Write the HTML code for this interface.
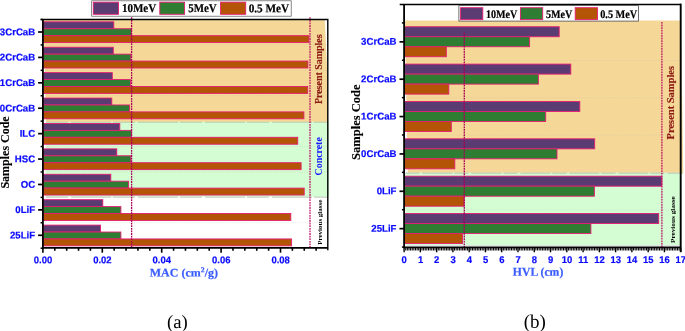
<!DOCTYPE html>
<html lang="en"><head><meta charset="utf-8"><title>MAC and HVL charts</title>
<style>
html,body{margin:0;padding:0;background:#fff;}
body{width:685px;height:331px;overflow:hidden;}
svg{display:block;}
</style></head><body>
<svg width="685" height="331" viewBox="0 0 685 331">
<rect width="685" height="331" fill="#fff"/>
<polygon points="43.6,19.5 324.8,19.5 327.8,85 327.8,121.9 46,121.9" fill="#f5d898"/>
<rect x="45.9" y="121.9" width="283.1" height="75.0" fill="#d4fdd4"/>
<line x1="45" x2="327.8" y1="44.91" y2="44.91" stroke="#b9b9a8" stroke-width="0.6" stroke-dasharray="1.2 1.2" opacity="0.5"/>
<line x1="45" x2="327.8" y1="70.32" y2="70.32" stroke="#b9b9a8" stroke-width="0.6" stroke-dasharray="1.2 1.2" opacity="0.5"/>
<line x1="45" x2="327.8" y1="95.73" y2="95.73" stroke="#b9b9a8" stroke-width="0.6" stroke-dasharray="1.2 1.2" opacity="0.5"/>
<line x1="45" x2="327.8" y1="146.55" y2="146.55" stroke="#b9b9a8" stroke-width="0.6" stroke-dasharray="1.2 1.2" opacity="0.5"/>
<line x1="45" x2="327.8" y1="171.96" y2="171.96" stroke="#b9b9a8" stroke-width="0.6" stroke-dasharray="1.2 1.2" opacity="0.5"/>
<line x1="45" x2="327.8" y1="222.78" y2="222.78" stroke="#b9b9a8" stroke-width="0.6" stroke-dasharray="1.2 1.2" opacity="0.5"/>
<line x1="46" x2="327.8" y1="122.3" y2="122.3" stroke="#8d8d84" stroke-width="0.8" stroke-dasharray="22 3 40 2" opacity="0.5"/>
<line x1="46" x2="327.8" y1="197.2" y2="197.2" stroke="#7a7a74" stroke-width="0.8" stroke-dasharray="22 3 40 2" opacity="0.55"/>
<rect x="43.40" y="21.82" width="70.40" height="6.92" fill="#5a3c73" stroke="#e61c72" stroke-width="0.9"/>
<rect x="43.40" y="28.74" width="88.00" height="6.92" fill="#2f7d32" stroke="#e61c72" stroke-width="0.9"/>
<rect x="43.40" y="35.66" width="265.50" height="6.92" fill="#b35407" stroke="#e61c72" stroke-width="0.9"/>
<rect x="43.40" y="47.23" width="69.90" height="6.92" fill="#5a3c73" stroke="#e61c72" stroke-width="0.9"/>
<rect x="43.40" y="54.15" width="87.50" height="6.92" fill="#2f7d32" stroke="#e61c72" stroke-width="0.9"/>
<rect x="43.40" y="61.07" width="264.50" height="6.92" fill="#b35407" stroke="#e61c72" stroke-width="0.9"/>
<rect x="43.40" y="72.64" width="68.90" height="6.92" fill="#5a3c73" stroke="#e61c72" stroke-width="0.9"/>
<rect x="43.40" y="79.56" width="87.00" height="6.92" fill="#2f7d32" stroke="#e61c72" stroke-width="0.9"/>
<rect x="43.40" y="86.48" width="264.30" height="6.92" fill="#b35407" stroke="#e61c72" stroke-width="0.9"/>
<rect x="43.40" y="98.05" width="68.40" height="6.92" fill="#5a3c73" stroke="#e61c72" stroke-width="0.9"/>
<rect x="43.40" y="104.97" width="86.20" height="6.92" fill="#2f7d32" stroke="#e61c72" stroke-width="0.9"/>
<rect x="43.40" y="111.89" width="260.50" height="6.92" fill="#b35407" stroke="#e61c72" stroke-width="0.9"/>
<rect x="43.40" y="123.46" width="76.40" height="6.92" fill="#5a3c73" stroke="#e61c72" stroke-width="0.9"/>
<rect x="43.40" y="130.38" width="88.00" height="6.92" fill="#2f7d32" stroke="#e61c72" stroke-width="0.9"/>
<rect x="43.40" y="137.30" width="254.30" height="6.92" fill="#b35407" stroke="#e61c72" stroke-width="0.9"/>
<rect x="43.40" y="148.87" width="73.40" height="6.92" fill="#5a3c73" stroke="#e61c72" stroke-width="0.9"/>
<rect x="43.40" y="155.79" width="87.50" height="6.92" fill="#2f7d32" stroke="#e61c72" stroke-width="0.9"/>
<rect x="43.40" y="162.71" width="257.70" height="6.92" fill="#b35407" stroke="#e61c72" stroke-width="0.9"/>
<rect x="43.40" y="174.28" width="67.40" height="6.92" fill="#5a3c73" stroke="#e61c72" stroke-width="0.9"/>
<rect x="43.40" y="181.20" width="85.20" height="6.92" fill="#2f7d32" stroke="#e61c72" stroke-width="0.9"/>
<rect x="43.40" y="188.12" width="260.80" height="6.92" fill="#b35407" stroke="#e61c72" stroke-width="0.9"/>
<rect x="43.40" y="199.69" width="59.40" height="6.92" fill="#5a3c73" stroke="#e61c72" stroke-width="0.9"/>
<rect x="43.40" y="206.61" width="77.50" height="6.92" fill="#2f7d32" stroke="#e61c72" stroke-width="0.9"/>
<rect x="43.40" y="213.53" width="247.40" height="6.92" fill="#b35407" stroke="#e61c72" stroke-width="0.9"/>
<rect x="43.40" y="225.10" width="57.10" height="6.92" fill="#5a3c73" stroke="#e61c72" stroke-width="0.9"/>
<rect x="43.40" y="232.02" width="77.50" height="6.92" fill="#2f7d32" stroke="#e61c72" stroke-width="0.9"/>
<rect x="43.40" y="238.94" width="248.20" height="6.92" fill="#b35407" stroke="#e61c72" stroke-width="0.9"/>
<line x1="131.6" x2="131.6" y1="17.3" y2="247.8" stroke="#aa0058" stroke-width="1.3" stroke-dasharray="1.8 0.8"/>
<line x1="310.0" x2="310.0" y1="17.3" y2="247.8" stroke="#bb1063" stroke-width="1.25" stroke-dasharray="1.8 0.8"/>
<path d="M40.699999999999996 19.5 H327.8 V250.20000000000002" fill="none" stroke="#000" stroke-width="1.4"/>
<path d="M42.9 19.5 V247.8 H327.8" fill="none" stroke="#000" stroke-width="1.8"/>
<line x1="38.1" x2="42.9" y1="32.00" y2="32.00" stroke="#000" stroke-width="1.7"/>
<line x1="38.1" x2="42.9" y1="57.41" y2="57.41" stroke="#000" stroke-width="1.7"/>
<line x1="38.1" x2="42.9" y1="82.82" y2="82.82" stroke="#000" stroke-width="1.7"/>
<line x1="38.1" x2="42.9" y1="108.23" y2="108.23" stroke="#000" stroke-width="1.7"/>
<line x1="38.1" x2="42.9" y1="133.64" y2="133.64" stroke="#000" stroke-width="1.7"/>
<line x1="38.1" x2="42.9" y1="159.05" y2="159.05" stroke="#000" stroke-width="1.7"/>
<line x1="38.1" x2="42.9" y1="184.46" y2="184.46" stroke="#000" stroke-width="1.7"/>
<line x1="38.1" x2="42.9" y1="209.87" y2="209.87" stroke="#000" stroke-width="1.7"/>
<line x1="38.1" x2="42.9" y1="235.28" y2="235.28" stroke="#000" stroke-width="1.7"/>
<line x1="40.6" x2="42.9" y1="19.50" y2="19.50" stroke="#000" stroke-width="1.5"/>
<line x1="40.6" x2="42.9" y1="44.91" y2="44.91" stroke="#000" stroke-width="1.5"/>
<line x1="40.6" x2="42.9" y1="70.32" y2="70.32" stroke="#000" stroke-width="1.5"/>
<line x1="40.6" x2="42.9" y1="95.73" y2="95.73" stroke="#000" stroke-width="1.5"/>
<line x1="40.6" x2="42.9" y1="121.14" y2="121.14" stroke="#000" stroke-width="1.5"/>
<line x1="40.6" x2="42.9" y1="146.55" y2="146.55" stroke="#000" stroke-width="1.5"/>
<line x1="40.6" x2="42.9" y1="171.96" y2="171.96" stroke="#000" stroke-width="1.5"/>
<line x1="40.6" x2="42.9" y1="197.37" y2="197.37" stroke="#000" stroke-width="1.5"/>
<line x1="40.6" x2="42.9" y1="222.78" y2="222.78" stroke="#000" stroke-width="1.5"/>
<line x1="40.6" x2="42.9" y1="248.19" y2="248.19" stroke="#000" stroke-width="1.5"/>
<line x1="42.90" x2="42.90" y1="247.8" y2="252.70000000000002" stroke="#000" stroke-width="1.6"/>
<line x1="54.78" x2="54.78" y1="247.8" y2="250.8" stroke="#000" stroke-width="1.6"/>
<line x1="66.66" x2="66.66" y1="247.8" y2="250.8" stroke="#000" stroke-width="1.6"/>
<line x1="78.54" x2="78.54" y1="247.8" y2="250.8" stroke="#000" stroke-width="1.6"/>
<line x1="90.42" x2="90.42" y1="247.8" y2="250.8" stroke="#000" stroke-width="1.6"/>
<line x1="102.30" x2="102.30" y1="247.8" y2="252.70000000000002" stroke="#000" stroke-width="1.6"/>
<line x1="114.18" x2="114.18" y1="247.8" y2="250.8" stroke="#000" stroke-width="1.6"/>
<line x1="126.06" x2="126.06" y1="247.8" y2="250.8" stroke="#000" stroke-width="1.6"/>
<line x1="137.94" x2="137.94" y1="247.8" y2="250.8" stroke="#000" stroke-width="1.6"/>
<line x1="149.82" x2="149.82" y1="247.8" y2="250.8" stroke="#000" stroke-width="1.6"/>
<line x1="161.70" x2="161.70" y1="247.8" y2="252.70000000000002" stroke="#000" stroke-width="1.6"/>
<line x1="173.58" x2="173.58" y1="247.8" y2="250.8" stroke="#000" stroke-width="1.6"/>
<line x1="185.46" x2="185.46" y1="247.8" y2="250.8" stroke="#000" stroke-width="1.6"/>
<line x1="197.34" x2="197.34" y1="247.8" y2="250.8" stroke="#000" stroke-width="1.6"/>
<line x1="209.22" x2="209.22" y1="247.8" y2="250.8" stroke="#000" stroke-width="1.6"/>
<line x1="221.10" x2="221.10" y1="247.8" y2="252.70000000000002" stroke="#000" stroke-width="1.6"/>
<line x1="232.98" x2="232.98" y1="247.8" y2="250.8" stroke="#000" stroke-width="1.6"/>
<line x1="244.86" x2="244.86" y1="247.8" y2="250.8" stroke="#000" stroke-width="1.6"/>
<line x1="256.74" x2="256.74" y1="247.8" y2="250.8" stroke="#000" stroke-width="1.6"/>
<line x1="268.62" x2="268.62" y1="247.8" y2="250.8" stroke="#000" stroke-width="1.6"/>
<line x1="280.50" x2="280.50" y1="247.8" y2="252.70000000000002" stroke="#000" stroke-width="1.6"/>
<line x1="292.38" x2="292.38" y1="247.8" y2="250.8" stroke="#000" stroke-width="1.6"/>
<line x1="304.26" x2="304.26" y1="247.8" y2="250.8" stroke="#000" stroke-width="1.6"/>
<line x1="316.14" x2="316.14" y1="247.8" y2="250.8" stroke="#000" stroke-width="1.6"/>
<text transform="translate(35.2 35.2) rotate(0.03) scale(0.985 1)" font-family="'Liberation Sans', Arial, sans-serif" font-size="9.8" font-weight="bold" fill="#0a0aff" text-anchor="end" stroke="#0a0aff" stroke-width="0.2">3CrCaB</text>
<text transform="translate(35.2 60.61) rotate(0.03) scale(0.985 1)" font-family="'Liberation Sans', Arial, sans-serif" font-size="9.8" font-weight="bold" fill="#0a0aff" text-anchor="end" stroke="#0a0aff" stroke-width="0.2">2CrCaB</text>
<text transform="translate(35.2 86.02) rotate(0.03) scale(0.985 1)" font-family="'Liberation Sans', Arial, sans-serif" font-size="9.8" font-weight="bold" fill="#0a0aff" text-anchor="end" stroke="#0a0aff" stroke-width="0.2">1CrCaB</text>
<text transform="translate(35.2 111.43) rotate(0.03) scale(0.985 1)" font-family="'Liberation Sans', Arial, sans-serif" font-size="9.8" font-weight="bold" fill="#0a0aff" text-anchor="end" stroke="#0a0aff" stroke-width="0.2">0CrCaB</text>
<text transform="translate(35.2 136.84) rotate(0.03) scale(0.985 1)" font-family="'Liberation Sans', Arial, sans-serif" font-size="9.8" font-weight="bold" fill="#0a0aff" text-anchor="end" stroke="#0a0aff" stroke-width="0.2">ILC</text>
<text transform="translate(35.2 162.25) rotate(0.03) scale(0.985 1)" font-family="'Liberation Sans', Arial, sans-serif" font-size="9.8" font-weight="bold" fill="#0a0aff" text-anchor="end" stroke="#0a0aff" stroke-width="0.2">HSC</text>
<text transform="translate(35.2 187.66) rotate(0.03) scale(0.985 1)" font-family="'Liberation Sans', Arial, sans-serif" font-size="9.8" font-weight="bold" fill="#0a0aff" text-anchor="end" stroke="#0a0aff" stroke-width="0.2">OC</text>
<text transform="translate(35.2 213.07) rotate(0.03) scale(0.985 1)" font-family="'Liberation Sans', Arial, sans-serif" font-size="9.8" font-weight="bold" fill="#0a0aff" text-anchor="end" stroke="#0a0aff" stroke-width="0.2">0LiF</text>
<text transform="translate(35.2 238.48) rotate(0.03) scale(0.985 1)" font-family="'Liberation Sans', Arial, sans-serif" font-size="9.8" font-weight="bold" fill="#0a0aff" text-anchor="end" stroke="#0a0aff" stroke-width="0.2">25LiF</text>
<text transform="translate(43.0 263.2) rotate(0.03) scale(0.965 1)" font-family="'Liberation Sans', Arial, sans-serif" font-size="9.8" font-weight="bold" fill="#0a0aff" text-anchor="middle" stroke="#0a0aff" stroke-width="0.2">0.00</text>
<text transform="translate(102.4 263.2) rotate(0.03) scale(0.965 1)" font-family="'Liberation Sans', Arial, sans-serif" font-size="9.8" font-weight="bold" fill="#0a0aff" text-anchor="middle" stroke="#0a0aff" stroke-width="0.2">0.02</text>
<text transform="translate(161.8 263.2) rotate(0.03) scale(0.965 1)" font-family="'Liberation Sans', Arial, sans-serif" font-size="9.8" font-weight="bold" fill="#0a0aff" text-anchor="middle" stroke="#0a0aff" stroke-width="0.2">0.04</text>
<text transform="translate(221.2 263.2) rotate(0.03) scale(0.965 1)" font-family="'Liberation Sans', Arial, sans-serif" font-size="9.8" font-weight="bold" fill="#0a0aff" text-anchor="middle" stroke="#0a0aff" stroke-width="0.2">0.06</text>
<text transform="translate(280.6 263.2) rotate(0.03) scale(0.965 1)" font-family="'Liberation Sans', Arial, sans-serif" font-size="9.8" font-weight="bold" fill="#0a0aff" text-anchor="middle" stroke="#0a0aff" stroke-width="0.2">0.08</text>
<text transform="translate(149.8 276.5) rotate(0.03)" font-family="'Liberation Serif', 'Times New Roman', serif" font-size="11.6" font-weight="bold" fill="#3a5cff" text-anchor="start" textLength="68.2" lengthAdjust="spacingAndGlyphs" stroke="#3a5cff" stroke-width="0.2">MAC (cm<tspan font-size="7.5" dy="-4.2">2</tspan><tspan dy="4.2">/g)</tspan></text>
<text transform="translate(9.3 188.6) rotate(-90)" font-family="'Liberation Serif', 'Times New Roman', serif" font-size="12" font-weight="bold" fill="#000" text-anchor="start" textLength="72.3" lengthAdjust="spacingAndGlyphs" stroke="#000" stroke-width="0.1">Samples Code</text>
<text transform="translate(321.6 104.1) rotate(-90)" font-family="'Liberation Serif', 'Times New Roman', serif" font-size="9.6" font-weight="bold" fill="#8b1a12" text-anchor="start" textLength="69.7" lengthAdjust="spacingAndGlyphs" stroke="#8b1a12" stroke-width="0.15">Present Samples</text>
<text transform="translate(321.8 175.4) rotate(-90)" font-family="'Liberation Serif', 'Times New Roman', serif" font-size="9.8" font-weight="bold" fill="#1717ff" text-anchor="start" textLength="38.2" lengthAdjust="spacingAndGlyphs">Concrete</text>
<text transform="translate(321.5 244.7) rotate(-90)" font-family="'Liberation Serif', 'Times New Roman', serif" font-size="6.7" font-weight="bold" fill="#000" text-anchor="start" textLength="45.0" lengthAdjust="spacingAndGlyphs">Previous glasse</text>
<text transform="translate(177.3 328.0) rotate(0.03)" font-family="'Liberation Serif', 'Times New Roman', serif" font-size="18.7" font-weight="normal" fill="#000" text-anchor="middle">(a)</text>
<rect x="91.7" y="0.8" width="199.5" height="15.4" fill="#fff" stroke="#555" stroke-width="0.7"/>
<rect x="93.3" y="2.2" width="25.20" height="12.10" fill="#5a3c73" stroke="#e61c72" stroke-width="0.9"/>
<text transform="translate(121.9 12.2) rotate(0.03)" font-family="'Liberation Serif', 'Times New Roman', serif" font-size="12" font-weight="bold" fill="#000" text-anchor="start" textLength="34.3" lengthAdjust="spacingAndGlyphs" stroke="#000" stroke-width="0.2">10MeV</text>
<rect x="159.8" y="2.2" width="24.80" height="12.10" fill="#2f7d32" stroke="#e61c72" stroke-width="0.9"/>
<text transform="translate(188.2 12.2) rotate(0.03)" font-family="'Liberation Serif', 'Times New Roman', serif" font-size="12" font-weight="bold" fill="#000" text-anchor="start" textLength="28.5" lengthAdjust="spacingAndGlyphs" stroke="#000" stroke-width="0.2">5MeV</text>
<rect x="220.6" y="2.2" width="25.10" height="12.10" fill="#b35407" stroke="#e61c72" stroke-width="0.9"/>
<text transform="translate(248.7 12.2) rotate(0.03)" font-family="'Liberation Serif', 'Times New Roman', serif" font-size="12" font-weight="bold" fill="#000" text-anchor="start" textLength="40.5" lengthAdjust="spacingAndGlyphs" stroke="#000" stroke-width="0.2">0.5 MeV</text>
<polygon points="404.9,20.6 680.9,20.6 683.3,172.8 407.8,172.8" fill="#f5d898"/>
<rect x="405.4" y="172.8" width="275.30000000000007" height="72.29999999999998" fill="#d4fdd4"/>
<line x1="406.6" x2="680.7" y1="245.3" y2="245.3" stroke="#889" stroke-width="0.5" opacity="0.6"/>
<line x1="406" x2="680.7" y1="60.46" y2="60.46" stroke="#b9b9a8" stroke-width="0.6" stroke-dasharray="1.2 1.2" opacity="0.5"/>
<line x1="406" x2="680.7" y1="97.82" y2="97.82" stroke="#b9b9a8" stroke-width="0.6" stroke-dasharray="1.2 1.2" opacity="0.5"/>
<line x1="406" x2="680.7" y1="135.18" y2="135.18" stroke="#b9b9a8" stroke-width="0.6" stroke-dasharray="1.2 1.2" opacity="0.5"/>
<line x1="406" x2="680.7" y1="172.54" y2="172.54" stroke="#b9b9a8" stroke-width="0.6" stroke-dasharray="1.2 1.2" opacity="0.5"/>
<line x1="406" x2="680.7" y1="209.90" y2="209.90" stroke="#b9b9a8" stroke-width="0.6" stroke-dasharray="1.2 1.2" opacity="0.5"/>
<line x1="405.4" x2="683" y1="173.2" y2="173.2" stroke="#9a9a90" stroke-width="0.9" stroke-dasharray="14 3 30 2" opacity="0.55"/>
<rect x="404.60" y="26.75" width="154.60" height="10.00" fill="#5a3c73" stroke="#e61c72" stroke-width="0.9"/>
<rect x="404.60" y="36.75" width="125.00" height="10.00" fill="#2f7d32" stroke="#e61c72" stroke-width="0.9"/>
<rect x="404.60" y="46.75" width="41.70" height="10.00" fill="#b35407" stroke="#e61c72" stroke-width="0.9"/>
<rect x="404.60" y="64.11" width="166.20" height="10.00" fill="#5a3c73" stroke="#e61c72" stroke-width="0.9"/>
<rect x="404.60" y="74.11" width="133.80" height="10.00" fill="#2f7d32" stroke="#e61c72" stroke-width="0.9"/>
<rect x="404.60" y="84.11" width="44.20" height="10.00" fill="#b35407" stroke="#e61c72" stroke-width="0.9"/>
<rect x="404.60" y="101.47" width="175.20" height="10.00" fill="#5a3c73" stroke="#e61c72" stroke-width="0.9"/>
<rect x="404.60" y="111.47" width="141.10" height="10.00" fill="#2f7d32" stroke="#e61c72" stroke-width="0.9"/>
<rect x="404.60" y="121.47" width="46.70" height="10.00" fill="#b35407" stroke="#e61c72" stroke-width="0.9"/>
<rect x="404.60" y="138.83" width="190.10" height="10.00" fill="#5a3c73" stroke="#e61c72" stroke-width="0.9"/>
<rect x="404.60" y="148.83" width="152.40" height="10.00" fill="#2f7d32" stroke="#e61c72" stroke-width="0.9"/>
<rect x="404.60" y="158.83" width="50.20" height="10.00" fill="#b35407" stroke="#e61c72" stroke-width="0.9"/>
<rect x="404.60" y="176.19" width="257.20" height="10.00" fill="#5a3c73" stroke="#e61c72" stroke-width="0.9"/>
<rect x="404.60" y="186.19" width="189.80" height="10.00" fill="#2f7d32" stroke="#e61c72" stroke-width="0.9"/>
<rect x="404.60" y="196.19" width="59.50" height="10.00" fill="#b35407" stroke="#e61c72" stroke-width="0.9"/>
<rect x="404.60" y="213.55" width="254.10" height="10.00" fill="#5a3c73" stroke="#e61c72" stroke-width="0.9"/>
<rect x="404.60" y="223.55" width="186.30" height="10.00" fill="#2f7d32" stroke="#e61c72" stroke-width="0.9"/>
<rect x="404.60" y="233.55" width="58.00" height="10.00" fill="#b35407" stroke="#e61c72" stroke-width="0.9"/>
<line x1="464.3" x2="464.3" y1="32.8" y2="249.9" stroke="#aa0058" stroke-width="1.3" stroke-dasharray="1.8 0.8"/>
<line x1="661.9" x2="661.9" y1="22" y2="247.4" stroke="#bb1063" stroke-width="1.25" stroke-dasharray="1.8 0.8"/>
<path d="M399.70000000000005 4.45 H680.7" fill="none" stroke="#000" stroke-width="1.6"/>
<path d="M680.7 3.6500000000000004 V252.0" fill="none" stroke="#000" stroke-width="1.9"/>
<path d="M404.1 4.45 V247.4 H680.7" fill="none" stroke="#000" stroke-width="1.8"/>
<line x1="399.5" x2="404.1" y1="41.85" y2="41.85" stroke="#000" stroke-width="1.7"/>
<line x1="399.5" x2="404.1" y1="79.21" y2="79.21" stroke="#000" stroke-width="1.7"/>
<line x1="399.5" x2="404.1" y1="116.57" y2="116.57" stroke="#000" stroke-width="1.7"/>
<line x1="399.5" x2="404.1" y1="153.93" y2="153.93" stroke="#000" stroke-width="1.7"/>
<line x1="399.5" x2="404.1" y1="191.29" y2="191.29" stroke="#000" stroke-width="1.7"/>
<line x1="399.5" x2="404.1" y1="228.65" y2="228.65" stroke="#000" stroke-width="1.7"/>
<line x1="401.9" x2="404.1" y1="22.90" y2="22.90" stroke="#000" stroke-width="1.5"/>
<line x1="401.9" x2="404.1" y1="60.26" y2="60.26" stroke="#000" stroke-width="1.5"/>
<line x1="401.9" x2="404.1" y1="97.62" y2="97.62" stroke="#000" stroke-width="1.5"/>
<line x1="401.9" x2="404.1" y1="134.98" y2="134.98" stroke="#000" stroke-width="1.5"/>
<line x1="401.9" x2="404.1" y1="172.34" y2="172.34" stroke="#000" stroke-width="1.5"/>
<line x1="401.9" x2="404.1" y1="209.70" y2="209.70" stroke="#000" stroke-width="1.5"/>
<line x1="401.9" x2="404.1" y1="247.06" y2="247.06" stroke="#000" stroke-width="1.5"/>
<line x1="404.10" x2="404.10" y1="247.4" y2="252.3" stroke="#000" stroke-width="1.4"/>
<line x1="405.73" x2="405.73" y1="247.4" y2="250.4" stroke="#000" stroke-width="1.05"/>
<line x1="407.35" x2="407.35" y1="247.4" y2="250.4" stroke="#000" stroke-width="1.05"/>
<line x1="408.98" x2="408.98" y1="247.4" y2="250.4" stroke="#000" stroke-width="1.05"/>
<line x1="410.61" x2="410.61" y1="247.4" y2="250.4" stroke="#000" stroke-width="1.05"/>
<line x1="412.24" x2="412.24" y1="247.4" y2="250.4" stroke="#000" stroke-width="1.05"/>
<line x1="413.86" x2="413.86" y1="247.4" y2="250.4" stroke="#000" stroke-width="1.05"/>
<line x1="415.49" x2="415.49" y1="247.4" y2="250.4" stroke="#000" stroke-width="1.05"/>
<line x1="417.12" x2="417.12" y1="247.4" y2="250.4" stroke="#000" stroke-width="1.05"/>
<line x1="418.74" x2="418.74" y1="247.4" y2="250.4" stroke="#000" stroke-width="1.05"/>
<line x1="420.37" x2="420.37" y1="247.4" y2="252.3" stroke="#000" stroke-width="1.4"/>
<line x1="422.00" x2="422.00" y1="247.4" y2="250.4" stroke="#000" stroke-width="1.05"/>
<line x1="423.62" x2="423.62" y1="247.4" y2="250.4" stroke="#000" stroke-width="1.05"/>
<line x1="425.25" x2="425.25" y1="247.4" y2="250.4" stroke="#000" stroke-width="1.05"/>
<line x1="426.88" x2="426.88" y1="247.4" y2="250.4" stroke="#000" stroke-width="1.05"/>
<line x1="428.51" x2="428.51" y1="247.4" y2="250.4" stroke="#000" stroke-width="1.05"/>
<line x1="430.13" x2="430.13" y1="247.4" y2="250.4" stroke="#000" stroke-width="1.05"/>
<line x1="431.76" x2="431.76" y1="247.4" y2="250.4" stroke="#000" stroke-width="1.05"/>
<line x1="433.39" x2="433.39" y1="247.4" y2="250.4" stroke="#000" stroke-width="1.05"/>
<line x1="435.01" x2="435.01" y1="247.4" y2="250.4" stroke="#000" stroke-width="1.05"/>
<line x1="436.64" x2="436.64" y1="247.4" y2="252.3" stroke="#000" stroke-width="1.4"/>
<line x1="438.27" x2="438.27" y1="247.4" y2="250.4" stroke="#000" stroke-width="1.05"/>
<line x1="439.90" x2="439.90" y1="247.4" y2="250.4" stroke="#000" stroke-width="1.05"/>
<line x1="441.52" x2="441.52" y1="247.4" y2="250.4" stroke="#000" stroke-width="1.05"/>
<line x1="443.15" x2="443.15" y1="247.4" y2="250.4" stroke="#000" stroke-width="1.05"/>
<line x1="444.78" x2="444.78" y1="247.4" y2="250.4" stroke="#000" stroke-width="1.05"/>
<line x1="446.40" x2="446.40" y1="247.4" y2="250.4" stroke="#000" stroke-width="1.05"/>
<line x1="448.03" x2="448.03" y1="247.4" y2="250.4" stroke="#000" stroke-width="1.05"/>
<line x1="449.66" x2="449.66" y1="247.4" y2="250.4" stroke="#000" stroke-width="1.05"/>
<line x1="451.28" x2="451.28" y1="247.4" y2="250.4" stroke="#000" stroke-width="1.05"/>
<line x1="452.91" x2="452.91" y1="247.4" y2="252.3" stroke="#000" stroke-width="1.4"/>
<line x1="454.54" x2="454.54" y1="247.4" y2="250.4" stroke="#000" stroke-width="1.05"/>
<line x1="456.17" x2="456.17" y1="247.4" y2="250.4" stroke="#000" stroke-width="1.05"/>
<line x1="457.79" x2="457.79" y1="247.4" y2="250.4" stroke="#000" stroke-width="1.05"/>
<line x1="459.42" x2="459.42" y1="247.4" y2="250.4" stroke="#000" stroke-width="1.05"/>
<line x1="461.05" x2="461.05" y1="247.4" y2="250.4" stroke="#000" stroke-width="1.05"/>
<line x1="462.67" x2="462.67" y1="247.4" y2="250.4" stroke="#000" stroke-width="1.05"/>
<line x1="464.30" x2="464.30" y1="247.4" y2="250.4" stroke="#000" stroke-width="1.05"/>
<line x1="465.93" x2="465.93" y1="247.4" y2="250.4" stroke="#000" stroke-width="1.05"/>
<line x1="467.56" x2="467.56" y1="247.4" y2="250.4" stroke="#000" stroke-width="1.05"/>
<line x1="469.18" x2="469.18" y1="247.4" y2="252.3" stroke="#000" stroke-width="1.4"/>
<line x1="470.81" x2="470.81" y1="247.4" y2="250.4" stroke="#000" stroke-width="1.05"/>
<line x1="472.44" x2="472.44" y1="247.4" y2="250.4" stroke="#000" stroke-width="1.05"/>
<line x1="474.06" x2="474.06" y1="247.4" y2="250.4" stroke="#000" stroke-width="1.05"/>
<line x1="475.69" x2="475.69" y1="247.4" y2="250.4" stroke="#000" stroke-width="1.05"/>
<line x1="477.32" x2="477.32" y1="247.4" y2="250.4" stroke="#000" stroke-width="1.05"/>
<line x1="478.94" x2="478.94" y1="247.4" y2="250.4" stroke="#000" stroke-width="1.05"/>
<line x1="480.57" x2="480.57" y1="247.4" y2="250.4" stroke="#000" stroke-width="1.05"/>
<line x1="482.20" x2="482.20" y1="247.4" y2="250.4" stroke="#000" stroke-width="1.05"/>
<line x1="483.83" x2="483.83" y1="247.4" y2="250.4" stroke="#000" stroke-width="1.05"/>
<line x1="485.45" x2="485.45" y1="247.4" y2="252.3" stroke="#000" stroke-width="1.4"/>
<line x1="487.08" x2="487.08" y1="247.4" y2="250.4" stroke="#000" stroke-width="1.05"/>
<line x1="488.71" x2="488.71" y1="247.4" y2="250.4" stroke="#000" stroke-width="1.05"/>
<line x1="490.33" x2="490.33" y1="247.4" y2="250.4" stroke="#000" stroke-width="1.05"/>
<line x1="491.96" x2="491.96" y1="247.4" y2="250.4" stroke="#000" stroke-width="1.05"/>
<line x1="493.59" x2="493.59" y1="247.4" y2="250.4" stroke="#000" stroke-width="1.05"/>
<line x1="495.22" x2="495.22" y1="247.4" y2="250.4" stroke="#000" stroke-width="1.05"/>
<line x1="496.84" x2="496.84" y1="247.4" y2="250.4" stroke="#000" stroke-width="1.05"/>
<line x1="498.47" x2="498.47" y1="247.4" y2="250.4" stroke="#000" stroke-width="1.05"/>
<line x1="500.10" x2="500.10" y1="247.4" y2="250.4" stroke="#000" stroke-width="1.05"/>
<line x1="501.72" x2="501.72" y1="247.4" y2="252.3" stroke="#000" stroke-width="1.4"/>
<line x1="503.35" x2="503.35" y1="247.4" y2="250.4" stroke="#000" stroke-width="1.05"/>
<line x1="504.98" x2="504.98" y1="247.4" y2="250.4" stroke="#000" stroke-width="1.05"/>
<line x1="506.60" x2="506.60" y1="247.4" y2="250.4" stroke="#000" stroke-width="1.05"/>
<line x1="508.23" x2="508.23" y1="247.4" y2="250.4" stroke="#000" stroke-width="1.05"/>
<line x1="509.86" x2="509.86" y1="247.4" y2="250.4" stroke="#000" stroke-width="1.05"/>
<line x1="511.49" x2="511.49" y1="247.4" y2="250.4" stroke="#000" stroke-width="1.05"/>
<line x1="513.11" x2="513.11" y1="247.4" y2="250.4" stroke="#000" stroke-width="1.05"/>
<line x1="514.74" x2="514.74" y1="247.4" y2="250.4" stroke="#000" stroke-width="1.05"/>
<line x1="516.37" x2="516.37" y1="247.4" y2="250.4" stroke="#000" stroke-width="1.05"/>
<line x1="517.99" x2="517.99" y1="247.4" y2="252.3" stroke="#000" stroke-width="1.4"/>
<line x1="519.62" x2="519.62" y1="247.4" y2="250.4" stroke="#000" stroke-width="1.05"/>
<line x1="521.25" x2="521.25" y1="247.4" y2="250.4" stroke="#000" stroke-width="1.05"/>
<line x1="522.88" x2="522.88" y1="247.4" y2="250.4" stroke="#000" stroke-width="1.05"/>
<line x1="524.50" x2="524.50" y1="247.4" y2="250.4" stroke="#000" stroke-width="1.05"/>
<line x1="526.13" x2="526.13" y1="247.4" y2="250.4" stroke="#000" stroke-width="1.05"/>
<line x1="527.76" x2="527.76" y1="247.4" y2="250.4" stroke="#000" stroke-width="1.05"/>
<line x1="529.38" x2="529.38" y1="247.4" y2="250.4" stroke="#000" stroke-width="1.05"/>
<line x1="531.01" x2="531.01" y1="247.4" y2="250.4" stroke="#000" stroke-width="1.05"/>
<line x1="532.64" x2="532.64" y1="247.4" y2="250.4" stroke="#000" stroke-width="1.05"/>
<line x1="534.26" x2="534.26" y1="247.4" y2="252.3" stroke="#000" stroke-width="1.4"/>
<line x1="535.89" x2="535.89" y1="247.4" y2="250.4" stroke="#000" stroke-width="1.05"/>
<line x1="537.52" x2="537.52" y1="247.4" y2="250.4" stroke="#000" stroke-width="1.05"/>
<line x1="539.15" x2="539.15" y1="247.4" y2="250.4" stroke="#000" stroke-width="1.05"/>
<line x1="540.77" x2="540.77" y1="247.4" y2="250.4" stroke="#000" stroke-width="1.05"/>
<line x1="542.40" x2="542.40" y1="247.4" y2="250.4" stroke="#000" stroke-width="1.05"/>
<line x1="544.03" x2="544.03" y1="247.4" y2="250.4" stroke="#000" stroke-width="1.05"/>
<line x1="545.65" x2="545.65" y1="247.4" y2="250.4" stroke="#000" stroke-width="1.05"/>
<line x1="547.28" x2="547.28" y1="247.4" y2="250.4" stroke="#000" stroke-width="1.05"/>
<line x1="548.91" x2="548.91" y1="247.4" y2="250.4" stroke="#000" stroke-width="1.05"/>
<line x1="550.54" x2="550.54" y1="247.4" y2="252.3" stroke="#000" stroke-width="1.4"/>
<line x1="552.16" x2="552.16" y1="247.4" y2="250.4" stroke="#000" stroke-width="1.05"/>
<line x1="553.79" x2="553.79" y1="247.4" y2="250.4" stroke="#000" stroke-width="1.05"/>
<line x1="555.42" x2="555.42" y1="247.4" y2="250.4" stroke="#000" stroke-width="1.05"/>
<line x1="557.04" x2="557.04" y1="247.4" y2="250.4" stroke="#000" stroke-width="1.05"/>
<line x1="558.67" x2="558.67" y1="247.4" y2="250.4" stroke="#000" stroke-width="1.05"/>
<line x1="560.30" x2="560.30" y1="247.4" y2="250.4" stroke="#000" stroke-width="1.05"/>
<line x1="561.92" x2="561.92" y1="247.4" y2="250.4" stroke="#000" stroke-width="1.05"/>
<line x1="563.55" x2="563.55" y1="247.4" y2="250.4" stroke="#000" stroke-width="1.05"/>
<line x1="565.18" x2="565.18" y1="247.4" y2="250.4" stroke="#000" stroke-width="1.05"/>
<line x1="566.81" x2="566.81" y1="247.4" y2="252.3" stroke="#000" stroke-width="1.4"/>
<line x1="568.43" x2="568.43" y1="247.4" y2="250.4" stroke="#000" stroke-width="1.05"/>
<line x1="570.06" x2="570.06" y1="247.4" y2="250.4" stroke="#000" stroke-width="1.05"/>
<line x1="571.69" x2="571.69" y1="247.4" y2="250.4" stroke="#000" stroke-width="1.05"/>
<line x1="573.31" x2="573.31" y1="247.4" y2="250.4" stroke="#000" stroke-width="1.05"/>
<line x1="574.94" x2="574.94" y1="247.4" y2="250.4" stroke="#000" stroke-width="1.05"/>
<line x1="576.57" x2="576.57" y1="247.4" y2="250.4" stroke="#000" stroke-width="1.05"/>
<line x1="578.20" x2="578.20" y1="247.4" y2="250.4" stroke="#000" stroke-width="1.05"/>
<line x1="579.82" x2="579.82" y1="247.4" y2="250.4" stroke="#000" stroke-width="1.05"/>
<line x1="581.45" x2="581.45" y1="247.4" y2="250.4" stroke="#000" stroke-width="1.05"/>
<line x1="583.08" x2="583.08" y1="247.4" y2="252.3" stroke="#000" stroke-width="1.4"/>
<line x1="584.70" x2="584.70" y1="247.4" y2="250.4" stroke="#000" stroke-width="1.05"/>
<line x1="586.33" x2="586.33" y1="247.4" y2="250.4" stroke="#000" stroke-width="1.05"/>
<line x1="587.96" x2="587.96" y1="247.4" y2="250.4" stroke="#000" stroke-width="1.05"/>
<line x1="589.58" x2="589.58" y1="247.4" y2="250.4" stroke="#000" stroke-width="1.05"/>
<line x1="591.21" x2="591.21" y1="247.4" y2="250.4" stroke="#000" stroke-width="1.05"/>
<line x1="592.84" x2="592.84" y1="247.4" y2="250.4" stroke="#000" stroke-width="1.05"/>
<line x1="594.47" x2="594.47" y1="247.4" y2="250.4" stroke="#000" stroke-width="1.05"/>
<line x1="596.09" x2="596.09" y1="247.4" y2="250.4" stroke="#000" stroke-width="1.05"/>
<line x1="597.72" x2="597.72" y1="247.4" y2="250.4" stroke="#000" stroke-width="1.05"/>
<line x1="599.35" x2="599.35" y1="247.4" y2="252.3" stroke="#000" stroke-width="1.4"/>
<line x1="600.97" x2="600.97" y1="247.4" y2="250.4" stroke="#000" stroke-width="1.05"/>
<line x1="602.60" x2="602.60" y1="247.4" y2="250.4" stroke="#000" stroke-width="1.05"/>
<line x1="604.23" x2="604.23" y1="247.4" y2="250.4" stroke="#000" stroke-width="1.05"/>
<line x1="605.86" x2="605.86" y1="247.4" y2="250.4" stroke="#000" stroke-width="1.05"/>
<line x1="607.48" x2="607.48" y1="247.4" y2="250.4" stroke="#000" stroke-width="1.05"/>
<line x1="609.11" x2="609.11" y1="247.4" y2="250.4" stroke="#000" stroke-width="1.05"/>
<line x1="610.74" x2="610.74" y1="247.4" y2="250.4" stroke="#000" stroke-width="1.05"/>
<line x1="612.36" x2="612.36" y1="247.4" y2="250.4" stroke="#000" stroke-width="1.05"/>
<line x1="613.99" x2="613.99" y1="247.4" y2="250.4" stroke="#000" stroke-width="1.05"/>
<line x1="615.62" x2="615.62" y1="247.4" y2="252.3" stroke="#000" stroke-width="1.4"/>
<line x1="617.24" x2="617.24" y1="247.4" y2="250.4" stroke="#000" stroke-width="1.05"/>
<line x1="618.87" x2="618.87" y1="247.4" y2="250.4" stroke="#000" stroke-width="1.05"/>
<line x1="620.50" x2="620.50" y1="247.4" y2="250.4" stroke="#000" stroke-width="1.05"/>
<line x1="622.13" x2="622.13" y1="247.4" y2="250.4" stroke="#000" stroke-width="1.05"/>
<line x1="623.75" x2="623.75" y1="247.4" y2="250.4" stroke="#000" stroke-width="1.05"/>
<line x1="625.38" x2="625.38" y1="247.4" y2="250.4" stroke="#000" stroke-width="1.05"/>
<line x1="627.01" x2="627.01" y1="247.4" y2="250.4" stroke="#000" stroke-width="1.05"/>
<line x1="628.63" x2="628.63" y1="247.4" y2="250.4" stroke="#000" stroke-width="1.05"/>
<line x1="630.26" x2="630.26" y1="247.4" y2="250.4" stroke="#000" stroke-width="1.05"/>
<line x1="631.89" x2="631.89" y1="247.4" y2="252.3" stroke="#000" stroke-width="1.4"/>
<line x1="633.52" x2="633.52" y1="247.4" y2="250.4" stroke="#000" stroke-width="1.05"/>
<line x1="635.14" x2="635.14" y1="247.4" y2="250.4" stroke="#000" stroke-width="1.05"/>
<line x1="636.77" x2="636.77" y1="247.4" y2="250.4" stroke="#000" stroke-width="1.05"/>
<line x1="638.40" x2="638.40" y1="247.4" y2="250.4" stroke="#000" stroke-width="1.05"/>
<line x1="640.02" x2="640.02" y1="247.4" y2="250.4" stroke="#000" stroke-width="1.05"/>
<line x1="641.65" x2="641.65" y1="247.4" y2="250.4" stroke="#000" stroke-width="1.05"/>
<line x1="643.28" x2="643.28" y1="247.4" y2="250.4" stroke="#000" stroke-width="1.05"/>
<line x1="644.90" x2="644.90" y1="247.4" y2="250.4" stroke="#000" stroke-width="1.05"/>
<line x1="646.53" x2="646.53" y1="247.4" y2="250.4" stroke="#000" stroke-width="1.05"/>
<line x1="648.16" x2="648.16" y1="247.4" y2="252.3" stroke="#000" stroke-width="1.4"/>
<line x1="649.79" x2="649.79" y1="247.4" y2="250.4" stroke="#000" stroke-width="1.05"/>
<line x1="651.41" x2="651.41" y1="247.4" y2="250.4" stroke="#000" stroke-width="1.05"/>
<line x1="653.04" x2="653.04" y1="247.4" y2="250.4" stroke="#000" stroke-width="1.05"/>
<line x1="654.67" x2="654.67" y1="247.4" y2="250.4" stroke="#000" stroke-width="1.05"/>
<line x1="656.29" x2="656.29" y1="247.4" y2="250.4" stroke="#000" stroke-width="1.05"/>
<line x1="657.92" x2="657.92" y1="247.4" y2="250.4" stroke="#000" stroke-width="1.05"/>
<line x1="659.55" x2="659.55" y1="247.4" y2="250.4" stroke="#000" stroke-width="1.05"/>
<line x1="661.18" x2="661.18" y1="247.4" y2="250.4" stroke="#000" stroke-width="1.05"/>
<line x1="662.80" x2="662.80" y1="247.4" y2="250.4" stroke="#000" stroke-width="1.05"/>
<line x1="664.43" x2="664.43" y1="247.4" y2="252.3" stroke="#000" stroke-width="1.4"/>
<line x1="666.06" x2="666.06" y1="247.4" y2="250.4" stroke="#000" stroke-width="1.05"/>
<line x1="667.68" x2="667.68" y1="247.4" y2="250.4" stroke="#000" stroke-width="1.05"/>
<line x1="669.31" x2="669.31" y1="247.4" y2="250.4" stroke="#000" stroke-width="1.05"/>
<line x1="670.94" x2="670.94" y1="247.4" y2="250.4" stroke="#000" stroke-width="1.05"/>
<line x1="672.56" x2="672.56" y1="247.4" y2="250.4" stroke="#000" stroke-width="1.05"/>
<line x1="674.19" x2="674.19" y1="247.4" y2="250.4" stroke="#000" stroke-width="1.05"/>
<line x1="675.82" x2="675.82" y1="247.4" y2="250.4" stroke="#000" stroke-width="1.05"/>
<line x1="677.45" x2="677.45" y1="247.4" y2="250.4" stroke="#000" stroke-width="1.05"/>
<line x1="679.07" x2="679.07" y1="247.4" y2="250.4" stroke="#000" stroke-width="1.05"/>
<line x1="680.70" x2="680.70" y1="247.4" y2="252.3" stroke="#000" stroke-width="1.4"/>
<text transform="translate(396.5 44.85) rotate(0.03) scale(0.985 1)" font-family="'Liberation Sans', Arial, sans-serif" font-size="9.8" font-weight="bold" fill="#0a0aff" text-anchor="end" stroke="#0a0aff" stroke-width="0.2">3CrCaB</text>
<text transform="translate(396.5 82.21) rotate(0.03) scale(0.985 1)" font-family="'Liberation Sans', Arial, sans-serif" font-size="9.8" font-weight="bold" fill="#0a0aff" text-anchor="end" stroke="#0a0aff" stroke-width="0.2">2CrCaB</text>
<text transform="translate(396.5 119.57) rotate(0.03) scale(0.985 1)" font-family="'Liberation Sans', Arial, sans-serif" font-size="9.8" font-weight="bold" fill="#0a0aff" text-anchor="end" stroke="#0a0aff" stroke-width="0.2">1CrCaB</text>
<text transform="translate(396.5 156.93) rotate(0.03) scale(0.985 1)" font-family="'Liberation Sans', Arial, sans-serif" font-size="9.8" font-weight="bold" fill="#0a0aff" text-anchor="end" stroke="#0a0aff" stroke-width="0.2">0CrCaB</text>
<text transform="translate(396.5 194.29) rotate(0.03) scale(0.985 1)" font-family="'Liberation Sans', Arial, sans-serif" font-size="9.8" font-weight="bold" fill="#0a0aff" text-anchor="end" stroke="#0a0aff" stroke-width="0.2">0LiF</text>
<text transform="translate(396.5 231.65) rotate(0.03) scale(0.985 1)" font-family="'Liberation Sans', Arial, sans-serif" font-size="9.8" font-weight="bold" fill="#0a0aff" text-anchor="end" stroke="#0a0aff" stroke-width="0.2">25LiF</text>
<text transform="translate(404.2 263.1) rotate(0.03) scale(0.965 1)" font-family="'Liberation Sans', Arial, sans-serif" font-size="9.8" font-weight="bold" fill="#0a0aff" text-anchor="middle" stroke="#0a0aff" stroke-width="0.2">0</text>
<text transform="translate(420.5 263.1) rotate(0.03) scale(0.965 1)" font-family="'Liberation Sans', Arial, sans-serif" font-size="9.8" font-weight="bold" fill="#0a0aff" text-anchor="middle" stroke="#0a0aff" stroke-width="0.2">1</text>
<text transform="translate(436.7 263.1) rotate(0.03) scale(0.965 1)" font-family="'Liberation Sans', Arial, sans-serif" font-size="9.8" font-weight="bold" fill="#0a0aff" text-anchor="middle" stroke="#0a0aff" stroke-width="0.2">2</text>
<text transform="translate(453.0 263.1) rotate(0.03) scale(0.965 1)" font-family="'Liberation Sans', Arial, sans-serif" font-size="9.8" font-weight="bold" fill="#0a0aff" text-anchor="middle" stroke="#0a0aff" stroke-width="0.2">3</text>
<text transform="translate(469.3 263.1) rotate(0.03) scale(0.965 1)" font-family="'Liberation Sans', Arial, sans-serif" font-size="9.8" font-weight="bold" fill="#0a0aff" text-anchor="middle" stroke="#0a0aff" stroke-width="0.2">4</text>
<text transform="translate(485.6 263.1) rotate(0.03) scale(0.965 1)" font-family="'Liberation Sans', Arial, sans-serif" font-size="9.8" font-weight="bold" fill="#0a0aff" text-anchor="middle" stroke="#0a0aff" stroke-width="0.2">5</text>
<text transform="translate(501.8 263.1) rotate(0.03) scale(0.965 1)" font-family="'Liberation Sans', Arial, sans-serif" font-size="9.8" font-weight="bold" fill="#0a0aff" text-anchor="middle" stroke="#0a0aff" stroke-width="0.2">6</text>
<text transform="translate(518.1 263.1) rotate(0.03) scale(0.965 1)" font-family="'Liberation Sans', Arial, sans-serif" font-size="9.8" font-weight="bold" fill="#0a0aff" text-anchor="middle" stroke="#0a0aff" stroke-width="0.2">7</text>
<text transform="translate(534.4 263.1) rotate(0.03) scale(0.965 1)" font-family="'Liberation Sans', Arial, sans-serif" font-size="9.8" font-weight="bold" fill="#0a0aff" text-anchor="middle" stroke="#0a0aff" stroke-width="0.2">8</text>
<text transform="translate(550.6 263.1) rotate(0.03) scale(0.965 1)" font-family="'Liberation Sans', Arial, sans-serif" font-size="9.8" font-weight="bold" fill="#0a0aff" text-anchor="middle" stroke="#0a0aff" stroke-width="0.2">9</text>
<text transform="translate(566.9 263.1) rotate(0.03) scale(0.965 1)" font-family="'Liberation Sans', Arial, sans-serif" font-size="9.8" font-weight="bold" fill="#0a0aff" text-anchor="middle" stroke="#0a0aff" stroke-width="0.2">10</text>
<text transform="translate(583.2 263.1) rotate(0.03) scale(0.965 1)" font-family="'Liberation Sans', Arial, sans-serif" font-size="9.8" font-weight="bold" fill="#0a0aff" text-anchor="middle" stroke="#0a0aff" stroke-width="0.2">11</text>
<text transform="translate(599.4 263.1) rotate(0.03) scale(0.965 1)" font-family="'Liberation Sans', Arial, sans-serif" font-size="9.8" font-weight="bold" fill="#0a0aff" text-anchor="middle" stroke="#0a0aff" stroke-width="0.2">12</text>
<text transform="translate(615.7 263.1) rotate(0.03) scale(0.965 1)" font-family="'Liberation Sans', Arial, sans-serif" font-size="9.8" font-weight="bold" fill="#0a0aff" text-anchor="middle" stroke="#0a0aff" stroke-width="0.2">13</text>
<text transform="translate(632.0 263.1) rotate(0.03) scale(0.965 1)" font-family="'Liberation Sans', Arial, sans-serif" font-size="9.8" font-weight="bold" fill="#0a0aff" text-anchor="middle" stroke="#0a0aff" stroke-width="0.2">14</text>
<text transform="translate(648.3 263.1) rotate(0.03) scale(0.965 1)" font-family="'Liberation Sans', Arial, sans-serif" font-size="9.8" font-weight="bold" fill="#0a0aff" text-anchor="middle" stroke="#0a0aff" stroke-width="0.2">15</text>
<text transform="translate(664.5 263.1) rotate(0.03) scale(0.965 1)" font-family="'Liberation Sans', Arial, sans-serif" font-size="9.8" font-weight="bold" fill="#0a0aff" text-anchor="middle" stroke="#0a0aff" stroke-width="0.2">16</text>
<text transform="translate(680.8 263.1) rotate(0.03) scale(0.965 1)" font-family="'Liberation Sans', Arial, sans-serif" font-size="9.8" font-weight="bold" fill="#0a0aff" text-anchor="middle" stroke="#0a0aff" stroke-width="0.2">17</text>
<text transform="translate(512.8 275.8) rotate(0.03)" font-family="'Liberation Serif', 'Times New Roman', serif" font-size="12" font-weight="bold" fill="#3a5cff" text-anchor="start" textLength="50.5" lengthAdjust="spacingAndGlyphs" stroke="#3a5cff" stroke-width="0.2">HVL (cm)</text>
<text transform="translate(360.1 159.9) rotate(-90)" font-family="'Liberation Serif', 'Times New Roman', serif" font-size="12.2" font-weight="bold" fill="#000" text-anchor="start" textLength="75.4" lengthAdjust="spacingAndGlyphs" stroke="#000" stroke-width="0.1">Samples Code</text>
<text transform="translate(674.4 139.5) rotate(-90)" font-family="'Liberation Serif', 'Times New Roman', serif" font-size="9.7" font-weight="bold" fill="#8b1a12" text-anchor="start" textLength="73.6" lengthAdjust="spacingAndGlyphs" stroke="#8b1a12" stroke-width="0.15">Present Samples</text>
<text transform="translate(674.5 243.0) rotate(-90)" font-family="'Liberation Serif', 'Times New Roman', serif" font-size="6.9" font-weight="bold" fill="#000" text-anchor="start" textLength="46.8" lengthAdjust="spacingAndGlyphs">Previous glasse</text>
<text transform="translate(534.8 327.8) rotate(0.03)" font-family="'Liberation Serif', 'Times New Roman', serif" font-size="19" font-weight="normal" fill="#000" text-anchor="middle">(b)</text>
<rect x="458.9" y="5.6" width="179.5" height="15.5" fill="#fff" stroke="#4a4a4a" stroke-width="0.8"/>
<rect x="460.6" y="7.7" width="22.20" height="11.95" fill="#5a3c73" stroke="#e61c72" stroke-width="0.9"/>
<text transform="translate(485.9 17.8) rotate(0.03)" font-family="'Liberation Serif', 'Times New Roman', serif" font-size="11.6" font-weight="bold" fill="#000" text-anchor="start" textLength="31.5" lengthAdjust="spacingAndGlyphs" stroke="#000" stroke-width="0.2">10MeV</text>
<rect x="520.4" y="7.7" width="22.30" height="11.95" fill="#2f7d32" stroke="#e61c72" stroke-width="0.9"/>
<text transform="translate(545.9 17.8) rotate(0.03)" font-family="'Liberation Serif', 'Times New Roman', serif" font-size="11.6" font-weight="bold" fill="#000" text-anchor="start" textLength="26.3" lengthAdjust="spacingAndGlyphs" stroke="#000" stroke-width="0.2">5MeV</text>
<rect x="575.2" y="7.7" width="22.30" height="11.95" fill="#b35407" stroke="#e61c72" stroke-width="0.9"/>
<text transform="translate(600.2 17.8) rotate(0.03)" font-family="'Liberation Serif', 'Times New Roman', serif" font-size="11.6" font-weight="bold" fill="#000" text-anchor="start" textLength="37.0" lengthAdjust="spacingAndGlyphs" stroke="#000" stroke-width="0.2">0.5 MeV</text>
</svg>
</body></html>
